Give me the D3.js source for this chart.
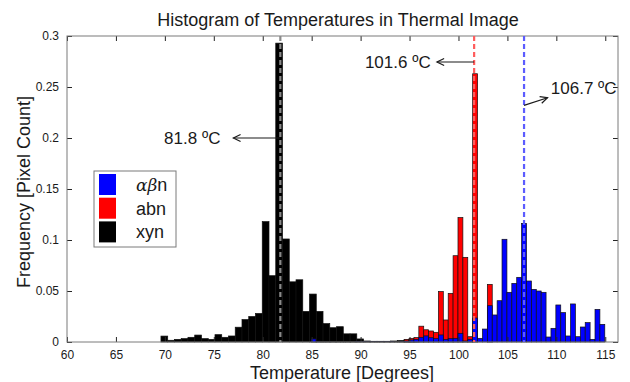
<!DOCTYPE html>
<html>
<head>
<meta charset="utf-8">
<script src="https://cdn.jsdelivr.net/npm/d3@7"></script>
<style>
  html, body { margin: 0; padding: 0; background: #fff; }
  text { font-family: "Liberation Sans", Arial, sans-serif; fill: #1a1a1a; }
</style>
</head>
<body>
<svg width="630" height="382"></svg>
<script>
// histogram data (left bin edges in degrees, frequencies)
var xynBinWidth = 0.69;
var xynEdges = [69.6, 70.29, 70.98, 71.67, 72.36, 73.05, 73.74, 74.43, 75.12, 75.81,
  76.5, 77.19, 77.88, 78.57, 79.26, 79.95, 80.64, 81.33, 82.02, 82.71,
  83.4, 84.09, 84.78, 85.47, 86.16, 86.85, 87.54, 88.23, 88.92, 89.61,
  90.3, 90.99, 91.68, 92.37, 93.06, 93.75, 94.44, 95.13];
var xynFreq = [0.0058, 0.0017, 0.0026, 0.0033, 0.0046, 0.0068, 0.0033, 0.0026, 0.0072, 0.0046,
  0.0059, 0.0145, 0.022, 0.025, 0.028, 0.118, 0.065, 0.293, 0.101, 0.059,
  0.061, 0.030, 0.047, 0.030, 0.018, 0.014, 0.015, 0.008, 0.008, 0.003,
  0.001, 0.0007, 0.0007, 0.0007, 0.001, 0.0015, 0.002, 0.001];

var binWidth = 0.5;
var abnEdges = [94.45, 94.95, 95.45, 95.95, 96.45, 96.95, 97.45, 97.95, 98.45, 98.95,
  99.45, 99.95, 100.45, 100.95, 101.45, 101.95, 102.45, 102.95];
var abnFreq = [0.0026, 0.0036, 0.0044, 0.0155, 0.012, 0.0108, 0.0095, 0.0495, 0.0216, 0.0477,
  0.0846, 0.122, 0.083, 0.0052, 0.263, 0, 0, 0.0565];

var alphaEdges = [84.95, 85.45, 85.95, 86.45, 86.95, 87.45, 87.95, 88.45, 88.95, 89.45,
  89.95, 90.45, 90.95, 91.45, 91.95, 92.45, 92.95, 93.45, 93.95, 94.45,
  94.95, 95.45, 95.95, 96.45, 96.95, 97.45, 97.95, 98.45, 98.95, 99.45,
  99.95, 100.45, 100.95, 101.45, 101.95, 102.45, 102.95, 103.45, 103.95, 104.45,
  104.95, 105.45, 105.95, 106.45, 106.95, 107.45, 107.95, 108.45, 108.95, 109.45,
  109.95, 110.45, 110.95, 111.45, 111.95, 112.45, 112.95, 113.45, 113.95, 114.45];
var alphaFreq = [0.003, 0.0008, 0.0005, 0.0005, 0.0006, 0.0005, 0.0004, 0.0005, 0.0004, 0.0003,
  0.0003, 0.0002, 0.0002, 0.0002, 0.0002, 0.0003, 0.0003, 0.0005, 0.0008, 0.001,
  0.002, 0.0026, 0.0046, 0.006, 0.0042, 0.0033, 0.0069, 0.0026, 0.0033, 0.0036,
  0.0085, 0.001, 0.0026, 0.0235, 0.0036, 0.0127, 0.0356, 0.0265, 0.0405, 0.1007,
  0.0487, 0.0575, 0.0634, 0.1163, 0.0598, 0.0516, 0.050, 0.0487, 0.0049, 0.0134,
  0.0363, 0.0288, 0.0059, 0.0373, 0.0052, 0.0147, 0.019, 0.0026, 0.032, 0.0173];

var means = [81.8, 101.6, 106.7];
var meanLabels = ['81.8 ºC', '101.6 ºC', '106.7 ºC'];
var xTicks = [60, 65, 70, 75, 80, 85, 90, 95, 100, 105, 110, 115];
var yTicks = [0, 0.05, 0.1, 0.15, 0.2, 0.25, 0.3];

(function() {
var svg = d3.select('svg'),
    pLeft = 67, pRight = 618, pTop = 36, pBottom = 342;

var x = d3.scaleLinear().domain([60, 116.3]).range([pLeft, pRight]);
var y = d3.scaleLinear().domain([0, 0.3]).range([pBottom, pTop]);

// bars: black first, then red, blue on top
function drawBars(edges, freq, w, color) {
    svg.append('g').selectAll('rect')
        .data(edges.map(function(e, i){ return {x0: e, f: freq[i]}; }))
        .enter().append('rect')
        .attr('x', function(d){ return x(d.x0); })
        .attr('width', function(d){ return x(d.x0 + w) - x(d.x0); })
        .attr('y', function(d){ return y(d.f); })
        .attr('height', function(d){ return y(0) - y(d.f); })
        .attr('fill', color)
        .attr('stroke', '#111')
        .attr('stroke-width', 0.7);
}
drawBars(xynEdges, xynFreq, xynBinWidth, '#000');
drawBars(abnEdges, abnFreq, binWidth, '#ff0000');
drawBars(alphaEdges, alphaFreq, binWidth, '#0000ff');

// axes box and ticks (inward, MATLAB style)
var axisColor = '#262626';
var gx = svg.append('g').attr('transform', 'translate(0,' + pBottom + ')')
    .call(d3.axisBottom(x).tickValues(xTicks).tickSizeInner(-5).tickSizeOuter(0).tickPadding(8));
var gxt = svg.append('g').attr('transform', 'translate(0,' + pTop + ')')
    .call(d3.axisTop(x).tickValues(xTicks).tickSizeInner(-5).tickSizeOuter(0).tickFormat(''));
var gy = svg.append('g').attr('transform', 'translate(' + pLeft + ',0)')
    .call(d3.axisLeft(y).tickValues(yTicks).tickSizeInner(-5).tickSizeOuter(0).tickPadding(8)
        .tickFormat(function(d){ return d3.format('~g')(d); }));
var gyr = svg.append('g').attr('transform', 'translate(' + pRight + ',0)')
    .call(d3.axisRight(y).tickValues(yTicks).tickSizeInner(-5).tickSizeOuter(0).tickFormat(''));
[gx, gxt, gy, gyr].forEach(function(g){
    g.selectAll('path.domain').remove();
    g.selectAll('line').attr('stroke', axisColor);
    g.selectAll('text').attr('font-size', 12).attr('fill', axisColor)
        .style('font-family', '"Liberation Sans", Arial, sans-serif');
});
svg.append('rect')
    .attr('x', pLeft).attr('y', pTop)
    .attr('width', pRight - pLeft).attr('height', pBottom - pTop)
    .attr('fill', 'none').attr('stroke', '#7a7a7a').attr('stroke-width', 1);

// mean lines
var lineColors = ['#8a8a8a', '#ff5c5c', '#5c5cff'];
svg.append('g').selectAll('line')
    .data(means)
    .enter().append('line')
    .attr('x1', function(d){ return x(d); })
    .attr('x2', function(d){ return x(d); })
    .attr('y1', y(0.3))
    .attr('y2', y(0))
    .attr('stroke', function(d, i){ return lineColors[i]; })
    .attr('stroke-width', 2.2)
    .attr('stroke-dasharray', '5,3');

// annotation arrows: start on the mean line, end at the head
var arrows = [
    {x1: x(means[0]), y1: y(0.2), x2: x(77.0), y2: y(0.2), tx: x(72.8), ty: y(0.2) + 6},
    {x1: x(means[1]), y1: y(0.2745), x2: x(97.8), y2: y(0.2745), tx: x(93.8), ty: y(0.2745) + 6},
    {x1: x(means[2]), y1: y(0.232), x2: x(109.1), y2: y(0.2395), tx: x(112.8), ty: y(0.2495) + 6}
];
var ag = svg.append('g');
arrows.forEach(function(a, i){
    ag.append('line')
        .attr('x1', a.x1).attr('y1', a.y1).attr('x2', a.x2).attr('y2', a.y2)
        .attr('stroke', '#1a1a1a').attr('stroke-width', 1.2);
    var ang = Math.atan2(a.y2 - a.y1, a.x2 - a.x1), L = 8, sp = 0.45;
    var p1 = [a.x2 - L * Math.cos(ang - sp), a.y2 - L * Math.sin(ang - sp)],
        p2 = [a.x2 - L * Math.cos(ang + sp), a.y2 - L * Math.sin(ang + sp)];
    ag.append('path')
        .attr('d', 'M' + p1 + 'L' + a.x2 + ',' + a.y2 + 'L' + p2)
        .attr('fill', 'none').attr('stroke', '#1a1a1a').attr('stroke-width', 1.2);
    ag.append('text')
        .attr('x', a.tx).attr('y', a.ty)
        .attr('text-anchor', 'middle')
        .attr('font-size', 17)
        .text(meanLabels[i]);
});

// legend
var legendItems = [
    {color: '#0000ff', label: 'αβn', greek: true},
    {color: '#ff0000', label: 'abn'},
    {color: '#000000', label: 'xyn'}
];
var lg = svg.append('g').attr('transform', 'translate(94,171)');
lg.append('rect').attr('width', 82).attr('height', 76)
    .attr('fill', '#fff').attr('stroke', '#7a7a7a').attr('stroke-width', 1);
legendItems.forEach(function(d, i){
    lg.append('rect')
        .attr('x', 5).attr('y', 3 + i * 23.7)
        .attr('width', 17).attr('height', 21)
        .attr('fill', d.color);
    var t = lg.append('text')
        .attr('x', 42).attr('y', 20 + i * 23.7)
        .attr('font-size', 18);
    if (d.greek) {
        t.append('tspan').attr('font-style', 'italic')
            .style('font-family', '"DejaVu Serif", "Liberation Serif", serif')
            .attr('font-size', 17).text('αβ');
        t.append('tspan').text('n');
    } else {
        t.text(d.label);
    }
});

// titles
svg.append('text')
    .attr('x', 338).attr('y', 26)
    .attr('text-anchor', 'middle')
    .attr('font-size', 18)
    .text('Histogram of Temperatures in Thermal Image');
svg.append('text')
    .attr('x', 342).attr('y', 379)
    .attr('text-anchor', 'middle')
    .attr('font-size', 18)
    .attr('fill', '#262626')
    .text('Temperature [Degrees]');
svg.append('text')
    .attr('transform', 'translate(30,192) rotate(-90)')
    .attr('text-anchor', 'middle')
    .attr('font-size', 18)
    .attr('fill', '#262626')
    .text('Frequency [Pixel Count]');
})();
</script>
</body>
</html>
